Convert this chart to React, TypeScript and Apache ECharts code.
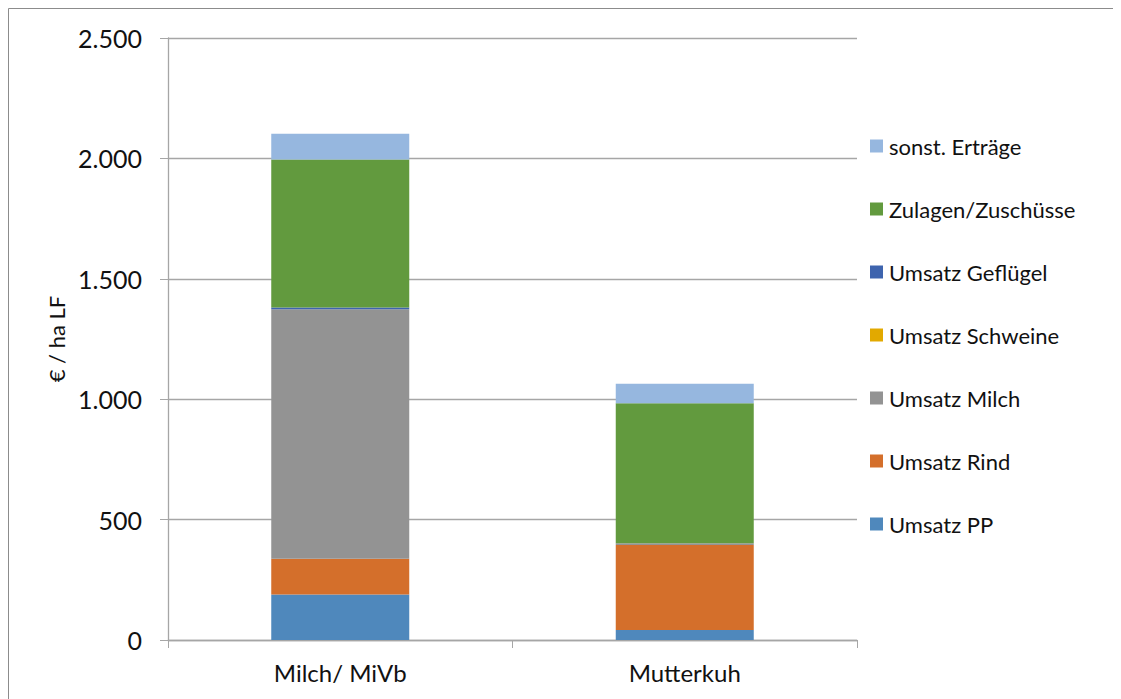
import React, { useEffect, useRef } from "react";
import * as echarts from "echarts";

const categories = ["Milch/ MiVb", "Mutterkuh"];
const umsatzPP = [189, 42];
const umsatzRind = [148, 352];
const umsatzMilch = [1037, 8];
const umsatzSchweine = [0, 0];
const umsatzGefluegel = [7, 0];
const zulagen = [614, 581];
const sonstErtraege = [107, 81];
const yTicks = { min: 0, max: 2500, interval: 500 };

const seriesDefs = [
  { name: "Umsatz PP", data: umsatzPP, color: "#4F88BC" },
  { name: "Umsatz Rind", data: umsatzRind, color: "#D46F2B" },
  { name: "Umsatz Milch", data: umsatzMilch, color: "#939393" },
  { name: "Umsatz Schweine", data: umsatzSchweine, color: "#E2A900" },
  { name: "Umsatz Geflügel", data: umsatzGefluegel, color: "#3E64AE" },
  { name: "Zulagen/Zuschüsse", data: zulagen, color: "#629A3E" },
  { name: "sonst. Erträge", data: sonstErtraege, color: "#96B7DF" },
];

const FONT = "Lato, 'Open Sans', sans-serif";

export default function App() {
  const ref = useRef<HTMLDivElement>(null);
  useEffect(() => {
    if (!ref.current) return;
    const chart = echarts.init(ref.current, null, { renderer: "svg" });
    chart.setOption({
      animation: false,
      backgroundColor: "#ffffff",
      textStyle: { fontFamily: FONT },
      graphic: [
        {
          type: "rect",
          shape: { x: 0.5, y: 0.5, width: 1300, height: 1300 },
          style: { fill: "none", stroke: "#8C8C8C", lineWidth: 1 },
          silent: true,
          z: -10,
        },
      ],
      grid: { left: 160, right: 264, top: 30, bottom: 59, containLabel: false },
      legend: {
        orient: "vertical",
        left: 862,
        top: 127,
        padding: 0,
        itemWidth: 13,
        itemHeight: 13,
        itemGap: 41,
        icon: "rect",
        data: seriesDefs.map((s) => s.name).reverse(),
        textStyle: { fontFamily: FONT, fontSize: 22, color: "#111111", padding: [0, 0, 0, 1] },
      },
      xAxis: {
        type: "category",
        data: categories,
        axisLine: { show: true, lineStyle: { color: "#A6A6A6", width: 1.3 } },
        axisTick: { show: true, length: 8, lineStyle: { color: "#A6A6A6" } },
        axisLabel: { fontFamily: FONT, fontSize: 24, color: "#111111", margin: 20 },
      },
      yAxis: {
        type: "value",
        min: yTicks.min,
        max: yTicks.max,
        interval: yTicks.interval,
        name: "€ / ha LF",
        nameLocation: "middle",
        nameGap: 88,
        nameRotate: 90,
        nameTextStyle: { fontFamily: FONT, fontSize: 22, color: "#111111" },
        axisLine: { show: true, lineStyle: { color: "#A6A6A6", width: 1.3 } },
        axisTick: { show: true, length: 8, lineStyle: { color: "#A6A6A6" } },
        splitLine: { show: true, lineStyle: { color: "#A6A6A6", width: 1.3 } },
        axisLabel: {
          fontFamily: FONT,
          fontSize: 25,
          color: "#111111",
          margin: 26,
          formatter: (v: number) => String(v).replace(/\B(?=(\d{3})+(?!\d))/g, "."),
        },
      },
      series: seriesDefs.map((s) => ({
        name: s.name,
        type: "bar",
        stack: "total",
        barWidth: 138,
        data: s.data,
        itemStyle: { color: s.color },
        emphasis: { disabled: true },
      })),
    });
    return () => chart.dispose();
  }, []);
  return <div ref={ref} style={{ width: 1113, height: 691 }} />;
}
